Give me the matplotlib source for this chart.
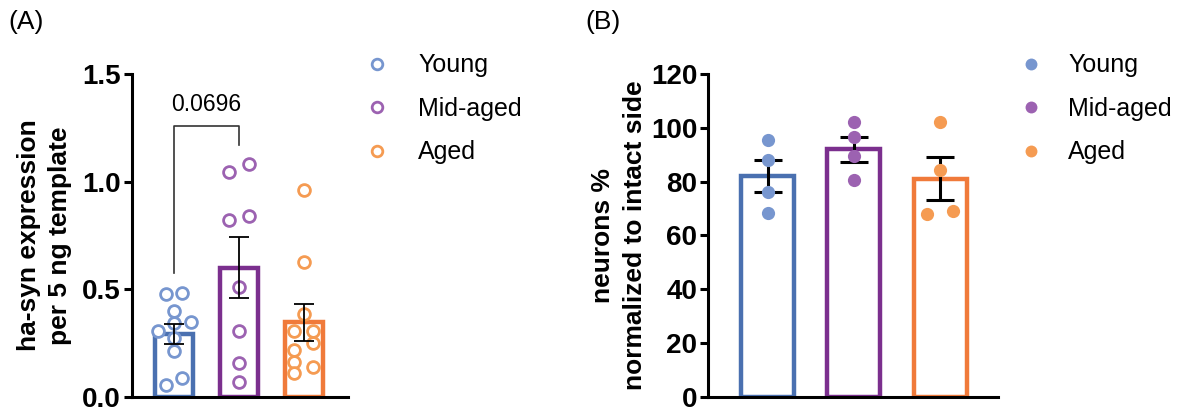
import numpy as np
import matplotlib.pyplot as plt

groups = ["Young", "Mid-aged", "Aged"]

# panel A: ha-syn expression
a_mean = [0.29, 0.60, 0.345]
a_sem = [0.047, 0.141, 0.085]
a_young = [0.477, 0.480, 0.399, 0.344, 0.345, 0.305, 0.271, 0.212, 0.054, 0.088]
a_mid = [1.045, 1.083, 0.823, 0.840, 0.511, 0.305, 0.155, 0.067]
a_aged = [0.96, 0.624, 0.383, 0.305, 0.305, 0.248, 0.217, 0.163, 0.108, 0.139]
a_pval = "0.0696"

# panel B: neurons %
b_mean = [82, 92, 81]
b_sem = [6.0, 4.65, 8.0]
b_young = [95.5, 88.0, 76.0, 68.4]
b_mid = [102.3, 96.5, 89.5, 80.6]
b_aged = [102.3, 84.3, 67.8, 69.0]

# horizontal scatter of the dots
a_jit = [
    [-0.12, 0.12, 0, 0, 0.26, -0.25, 0, 0, -0.12, 0.12],
    [-0.15, 0.15, -0.15, 0.15, 0, 0, 0, 0],
    [0, 0, 0, -0.16, 0.14, 0.14, -0.16, -0.16, -0.16, 0.14],
]
b_jit = [[0, 0, 0, 0], [0, 0, 0, 0], [0, 0, -0.15, 0.15]]

edge = ["#4a70b0", "#7b2f8e", "#f07a3a"]
dot = ["#7796cf", "#9c62b1", "#f59b52"]

plt.rcParams.update({
    "font.family": ["Liberation Sans", "DejaVu Sans"],
    "axes.linewidth": 2.2,
})

fig = plt.figure(figsize=(11.88, 4.07), dpi=100)
axA = fig.add_axes([0.111, 0.0253, 0.182, 0.7929])
axB = fig.add_axes([0.5962, 0.0253, 0.2438, 0.7929])

x = np.arange(3)

# ---- A
axA.bar(x, a_mean, width=0.58, facecolor="none", edgecolor=edge,
        linewidth=3.2, zorder=2)
for i, vals in enumerate([a_young, a_mid, a_aged]):
    axA.plot(x[i] + np.array(a_jit[i]), vals, "o", ms=8.5, mfc="white",
             mec=dot[i], mew=2, zorder=3, label=groups[i], clip_on=False)
axA.errorbar(x, a_mean, yerr=a_sem, fmt="none", ecolor="black",
             elinewidth=1.3, capsize=7, capthick=1.3, zorder=4)
axA.plot([0, 0, 1, 1], [0.576, 1.26, 1.26, 1.17], color="#333333", lw=1.2)
axA.text(0.5, 1.36, a_pval, ha="center", va="center", fontsize=16.5)

axA.set_ylim(0, 1.5)
axA.set_xlim(-0.65, 2.68)
axA.set_yticks([0, 0.5, 1.0, 1.5])
axA.set_yticklabels(["0.0", "0.5", "1.0", "1.5"])
axA.set_ylabel("ha-syn expression\nper 5 ng template", fontsize=19,
               fontweight="bold", labelpad=7, linespacing=1.4)
axA.legend(loc="upper left", bbox_to_anchor=(0.288, 0.924),
           bbox_transform=fig.transFigure, frameon=False, fontsize=18,
           handletextpad=1.15, labelspacing=0.78, handlelength=1.0,
           markerscale=0.9)

# ---- B
axB.bar(x, b_mean, width=0.615, facecolor="none", edgecolor=edge,
        linewidth=3.2, zorder=2)
axB.errorbar(x, b_mean, yerr=b_sem, fmt="none", ecolor="black",
             elinewidth=2.2, capsize=10, capthick=2.2, zorder=3)
for i, vals in enumerate([b_young, b_mid, b_aged]):
    axB.plot(x[i] + np.array(b_jit[i]), vals, "o", ms=9.5, color=dot[i],
             mec="none", zorder=4, label=groups[i], clip_on=False)

axB.set_ylim(0, 120)
axB.set_xlim(-0.69, 2.67)
axB.set_yticks(range(0, 121, 20))
axB.set_ylabel("neurons %\nnormalized to intact side", fontsize=19,
               fontweight="bold", labelpad=3, linespacing=1.4)
axB.legend(loc="upper left", bbox_to_anchor=(0.838, 0.924),
           bbox_transform=fig.transFigure, frameon=False, fontsize=18,
           handletextpad=1.0, labelspacing=0.78, handlelength=1.0,
           markerscale=0.9)

for ax in (axA, axB):
    ax.spines["top"].set_visible(False)
    ax.spines["right"].set_visible(False)
    ax.set_xticks([])
    ax.tick_params(axis="y", labelsize=20, width=2.2, length=6, pad=2)
    for t in ax.get_yticklabels():
        t.set_fontweight("bold")

fig.text(0.007, 0.945, "(A)", fontsize=19, va="center")
fig.text(0.493, 0.945, "(B)", fontsize=19, va="center")

fig.savefig("out.png", dpi=100)
